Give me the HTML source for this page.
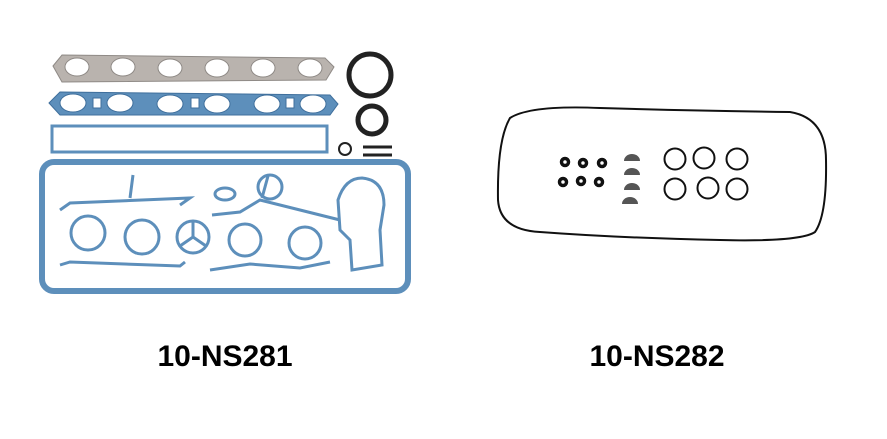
<!DOCTYPE html>
<html><head><style>
body{margin:0;background:#fff;}
.l{position:absolute;font-family:"Liberation Sans",Arial,sans-serif;font-weight:bold;font-size:30px;color:#000;top:340px;width:300px;text-align:center;}
</style></head><body>
<div style="position:relative;width:887px;height:439px;overflow:hidden">
<svg width="887" height="439" style="position:absolute;left:0;top:0">
<g>
<path d="M53 66 L62 55 L325 58 L334 67 L326 80 L62 82 Z" fill="#b9b3ae" stroke="#8f8a86" stroke-width="1"/>
<g fill="#fff" stroke="#8f8a86"><ellipse cx="77" cy="67" rx="12" ry="9"/><ellipse cx="123" cy="67" rx="12" ry="9"/><ellipse cx="170" cy="68" rx="12" ry="9"/><ellipse cx="217" cy="68" rx="12" ry="9"/><ellipse cx="263" cy="68" rx="12" ry="9"/><ellipse cx="310" cy="68" rx="12" ry="9"/></g>
<path d="M49 103 L60 92 L330 95 L338 104 L330 115 L60 115 Z" fill="#5d8fbb" stroke="#3f6f9c"/>
<g fill="#fff" stroke="#3f6f9c"><ellipse cx="73" cy="103" rx="13" ry="9"/><ellipse cx="120" cy="103" rx="13" ry="9"/><ellipse cx="170" cy="104" rx="13" ry="9"/><ellipse cx="217" cy="104" rx="13" ry="9"/><ellipse cx="267" cy="104" rx="13" ry="9"/><ellipse cx="313" cy="104" rx="13" ry="9"/><rect x="93" y="98" width="8" height="10"/><rect x="191" y="98" width="8" height="10"/><rect x="286" y="98" width="8" height="10"/></g>
<rect x="52" y="126" width="275" height="26" fill="none" stroke="#5d8fbb" stroke-width="3"/>
<rect x="42" y="162" width="366" height="129" rx="12" fill="none" stroke="#5d8fbb" stroke-width="6"/>
<g fill="none" stroke="#5d8fbb" stroke-width="3">
<circle cx="88" cy="233" r="17"/><circle cx="142" cy="237" r="17"/><circle cx="193" cy="237" r="16"/><circle cx="245" cy="240" r="16"/><circle cx="305" cy="243" r="16"/><circle cx="270" cy="187" r="12"/>
<path d="M193 237 L193 222 M193 237 L180 246 M193 237 L206 246"/>
<path d="M60 210 L70 203 L190 198 L180 205 M130 198 L133 175"/>
<path d="M212 215 L240 212 L260 200 L300 210 L340 220 M262 198 L268 176"/>
<path d="M60 265 L70 262 L180 266 L185 262"/>
<path d="M210 270 L250 264 L300 268 L330 262"/>
<path d="M340 230 L338 200 Q345 178 362 178 Q384 180 384 205 L380 230 L382 265 L352 270 L350 240 Z"/>
<ellipse cx="225" cy="194" rx="10" ry="6"/>
</g>
<circle cx="370" cy="75" r="21" fill="none" stroke="#222" stroke-width="5"/>
<circle cx="372" cy="120" r="14" fill="none" stroke="#222" stroke-width="5"/>
<circle cx="345" cy="149" r="6" fill="none" stroke="#222" stroke-width="2"/>
<path d="M363 147 L392 147 M363 155 L392 155" stroke="#222" stroke-width="3"/>
</g>
<path d="M510 118 Q530 105 600 108 Q700 111 790 112 Q826 118 826 160 Q827 215 815 232 Q800 242 720 240 Q620 238 540 232 Q500 230 498 200 Q497 140 510 118 Z" fill="none" stroke="#111" stroke-width="2"/>
<g fill="none" stroke="#111" stroke-width="3.5"><circle cx="565" cy="162" r="3.5"/><circle cx="583" cy="163" r="3.5"/><circle cx="602" cy="163" r="3.5"/><circle cx="563" cy="182" r="3.5"/><circle cx="581" cy="181" r="3.5"/><circle cx="599" cy="182" r="3.5"/></g>
<g fill="#555"><path d="M624 161 A8 7 0 0 1 640 161 Z"/><path d="M624 175 A8 7 0 0 1 640 175 Z"/><path d="M624 190 A8 7 0 0 1 640 190 Z"/><path d="M622 204 A8 7 0 0 1 638 204 Z"/></g>
<g fill="none" stroke="#111" stroke-width="2"><circle cx="675" cy="159" r="10.5"/><circle cx="704" cy="158" r="10.5"/><circle cx="737" cy="159" r="10.5"/><circle cx="675" cy="189" r="10.5"/><circle cx="708" cy="188" r="10.5"/><circle cx="737" cy="189" r="10.5"/></g>
</svg>
<div class="l" style="left:75px">10-NS281</div>
<div class="l" style="left:507px">10-NS282</div>
</div>
</body></html>
